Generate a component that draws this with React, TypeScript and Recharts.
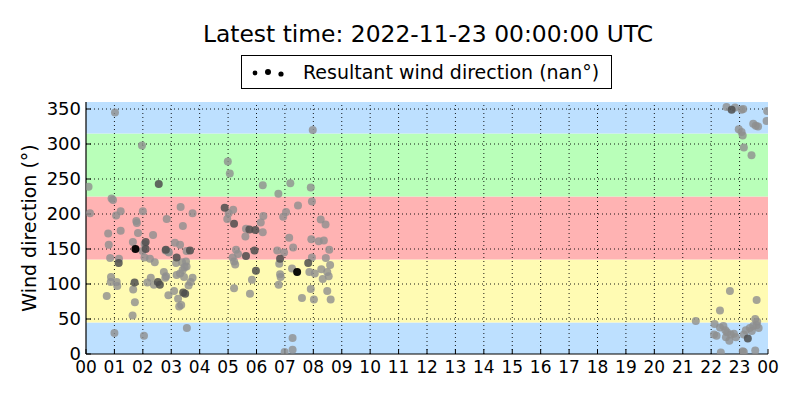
import React from "react"
import {
  ReferenceArea,
  ReferenceLine,
  Scatter,
  ScatterChart,
  XAxis,
  YAxis,
} from "recharts"

// [hour of day, wind direction in degrees]
const lightPoints: [number, number][] = [
  [0.09, 239], [1.02, 345], [1.97, 298], [0.14, 201], [0.9, 222], [0.95, 220], [1.22, 204],
  [1.06, 198], [2.0, 204], [1.77, 190], [1.79, 187], [2.84, 193], [0.78, 172], [1.22, 176],
  [1.83, 173], [2.36, 170], [0.8, 156], [1.65, 160], [2.06, 157], [1.99, 147], [2.8, 148],
  [2.92, 145], [0.85, 137], [1.16, 136], [2.06, 138], [2.25, 136], [2.42, 131], [0.88, 110],
  [0.87, 103], [1.08, 103], [1.1, 97], [1.66, 92], [1.72, 74], [0.73, 83], [1.64, 55],
  [2.16, 102], [2.28, 109], [2.39, 99], [2.74, 117], [2.82, 111], [2.79, 109], [2.9, 84],
  [1.0, 30], [2.04, 26],
  [3.33, 210], [3.75, 201], [3.41, 183], [3.13, 159], [3.31, 156], [2.89, 146], [3.54, 147],
  [3.17, 130], [3.38, 131], [3.52, 132], [3.54, 125], [3.47, 124], [3.4, 120], [3.19, 113],
  [3.31, 115], [3.45, 110], [3.75, 109], [3.68, 103], [3.61, 98], [3.1, 90], [3.24, 79],
  [3.28, 68], [3.35, 70], [3.55, 37],
  [4.99, 275], [5.06, 258], [5.18, 206], [5.02, 201], [4.97, 193], [5.63, 179], [5.61, 168],
  [5.28, 149], [5.35, 143], [5.16, 138], [5.21, 132], [5.25, 128], [5.21, 94], [5.77, 86],
  [5.84, 106],
  [6.22, 241], [7.19, 244], [7.91, 238], [6.77, 229], [7.95, 218], [7.46, 212], [7.04, 203],
  [6.94, 196], [6.24, 197], [6.15, 188], [6.22, 174], [8.26, 192], [8.43, 185], [7.15, 166],
  [7.29, 152], [7.93, 164], [8.19, 161], [8.37, 162], [6.73, 148], [6.97, 145], [8.56, 149],
  [8.44, 137], [7.95, 138], [6.8, 129], [7.25, 122], [7.86, 117], [8.05, 115], [8.28, 121],
  [8.49, 117], [8.54, 111], [8.33, 107], [8.59, 127], [6.83, 114], [6.85, 110], [6.78, 99],
  [7.91, 93], [7.6, 80], [8.02, 78], [8.49, 90], [8.61, 78], [7.27, 23], [7.27, 6], [6.99, 3],
  [7.98, 320],
  [22.54, 353], [22.84, 352], [23.07, 349], [23.13, 350], [23.97, 347], [22.97, 321],
  [23.07, 317], [23.11, 312], [23.48, 329], [23.57, 326], [23.65, 325], [23.95, 333],
  [23.15, 295], [23.42, 284], [22.66, 90], [23.6, 77], [22.31, 62], [21.46, 47], [22.12, 43],
  [22.31, 38], [22.43, 40], [22.1, 28], [22.19, 26], [22.56, 31], [22.52, 24], [22.64, 19],
  [22.69, 28], [22.8, 29], [22.87, 24], [22.34, 2], [23.15, 28], [23.22, 34], [23.36, 37],
  [23.55, 50], [23.62, 46], [23.6, 41], [23.48, 40], [23.67, 37], [23.11, 4], [23.15, 3],
  [23.55, 5], [22.5, 34], [23.43, 33],
]

const darkPoints: [number, number][] = [
  [2.56, 243], [1.15, 130], [1.71, 102], [2.53, 103], [2.6, 99], [2.1, 150], [2.1, 160],
  [2.81, 149], [3.66, 148], [3.19, 138], [3.42, 88], [3.49, 86], [4.88, 209], [5.21, 186],
  [5.63, 140], [5.75, 178], [5.96, 177], [5.93, 148], [5.98, 119], [6.83, 136], [7.82, 130],
  [22.72, 349], [23.29, 22],
]

const blackPoints: [number, number][] = [
  [1.74, 150], [7.43, 117],
]

const hourTicks = [
  0, 1, 2, 3, 4, 5, 6, 7, 8, 9, 10, 11, 12, 13, 14, 15, 16, 17, 18, 19, 20, 21, 22, 23, 24,
]
const hourLabels = [
  "00", "01", "02", "03", "04", "05", "06", "07", "08", "09", "10", "11", "12",
  "13", "14", "15", "16", "17", "18", "19", "20", "21", "22", "23", "00",
]
const directionTicks = [0, 50, 100, 150, 200, 250, 300, 350]

// direction sectors: [from, to]
const sectors: [number, number][] = [
  [0, 45], [45, 135], [135, 225], [225, 315], [315, 360],
]
const sectorColors = ["#bde0ff", "#fffbb3", "#ffb3b3", "#b9ffb9", "#bde0ff"]

const toRows = (pts: [number, number][]) => pts.map(([hour, dir]) => ({ hour, dir }))

const dot = (fill: string, opacity: number) => (props: any) => (
  <circle cx={props.cx} cy={props.cy} r={4} fill={fill} fillOpacity={opacity} />
)

const FONT = "'DejaVu Sans', sans-serif"

export default function App() {
  return (
    <div
      style={{
        position: "absolute",
        left: 0,
        top: 0,
        width: 800,
        height: 400,
        background: "#fff",
        fontFamily: FONT,
        color: "#000",
      }}
    >
      <div
        style={{
          position: "absolute",
          left: 0,
          width: 856,
          top: 20,
          textAlign: "center",
          fontSize: 23.4,
          whiteSpace: "nowrap",
        }}
      >
        Latest time: 2022-11-23 00:00:00 UTC
      </div>

      <div
        style={{
          position: "absolute",
          left: 241,
          top: 55,
          width: 371,
          height: 34,
          boxSizing: "border-box",
          border: "1px solid #000",
          background: "#fff",
          zIndex: 2,
        }}
      >
        <svg width={60} height={32} style={{ position: "absolute", left: 0, top: 0 }}>
          <circle cx={13} cy={17} r={2.4} fill="#000" />
          <circle cx={26} cy={16} r={3} fill="#000" />
          <circle cx={39} cy={18} r={2.6} fill="#000" />
        </svg>
        <span
          style={{
            position: "absolute",
            left: 61,
            top: 5,
            fontSize: 19,
            whiteSpace: "nowrap",
          }}
        >
          Resultant wind direction (nan°)
        </span>
      </div>

      <div
        style={{
          position: "absolute",
          left: 29,
          top: 228,
          transform: "translate(-50%, -50%) rotate(-90deg)",
          fontSize: 19,
          whiteSpace: "nowrap",
        }}
      >
        Wind direction (°)
      </div>

      <ScatterChart
        width={800}
        height={400}
        margin={{ top: 102, right: 32, bottom: 16, left: 26 }}
      >
        <XAxis
          type="number"
          dataKey="hour"
          domain={[0, 24]}
          ticks={hourTicks}
          tickFormatter={(v: number) => hourLabels[hourTicks.indexOf(v)]}
          interval={0}
          height={30}
          tickSize={-5}
          tickMargin={12}
          axisLine={{ stroke: "#000", strokeWidth: 1.2 }}
          tickLine={{ stroke: "#000" }}
          tick={{ fill: "#000", fontSize: 17, fontFamily: FONT }}
          allowDataOverflow
        />
        <XAxis
          xAxisId="top"
          orientation="top"
          type="number"
          domain={[0, 24]}
          ticks={hourTicks}
          interval={0}
          height={0}
          tickSize={-5}
          axisLine={{ stroke: "#000", strokeWidth: 1.2 }}
          tickLine={{ stroke: "#000" }}
          tick={false}
        />
        <YAxis
          type="number"
          dataKey="dir"
          domain={[0, 360]}
          ticks={directionTicks}
          interval={0}
          width={60}
          tickSize={-5}
          tickMargin={10}
          axisLine={{ stroke: "#000", strokeWidth: 1.2 }}
          tickLine={{ stroke: "#000" }}
          tick={{ fill: "#000", fontSize: 18, fontFamily: FONT }}
          allowDataOverflow
        />
        <YAxis
          yAxisId="right"
          orientation="right"
          type="number"
          domain={[0, 360]}
          ticks={directionTicks}
          interval={0}
          width={0}
          tickSize={-5}
          axisLine={{ stroke: "#000", strokeWidth: 1.2 }}
          tickLine={{ stroke: "#000" }}
          tick={false}
        />

        {sectors.map(([from, to], i) => (
          <ReferenceArea
            key={`s${i}`}
            y1={from}
            y2={to}
            fill={sectorColors[i]}
            fillOpacity={1}
            stroke="none"
          />
        ))}

        {hourTicks.slice(1, -1).map((h) => (
          <ReferenceLine key={`x${h}`} x={h} stroke="#000" strokeWidth={0.9} strokeDasharray="1 3" />
        ))}
        {directionTicks.slice(1).map((d) => (
          <ReferenceLine key={`y${d}`} y={d} stroke="#000" strokeWidth={0.9} strokeDasharray="1 3" />
        ))}

        <Scatter data={toRows(lightPoints)} shape={dot("#8e8e8e", 0.8)} isAnimationActive={false} />
        <Scatter data={toRows(darkPoints)} shape={dot("#4e4e4e", 0.85)} isAnimationActive={false} />
        <Scatter data={toRows(blackPoints)} shape={dot("#000", 0.95)} isAnimationActive={false} />
      </ScatterChart>
    </div>
  )
}
